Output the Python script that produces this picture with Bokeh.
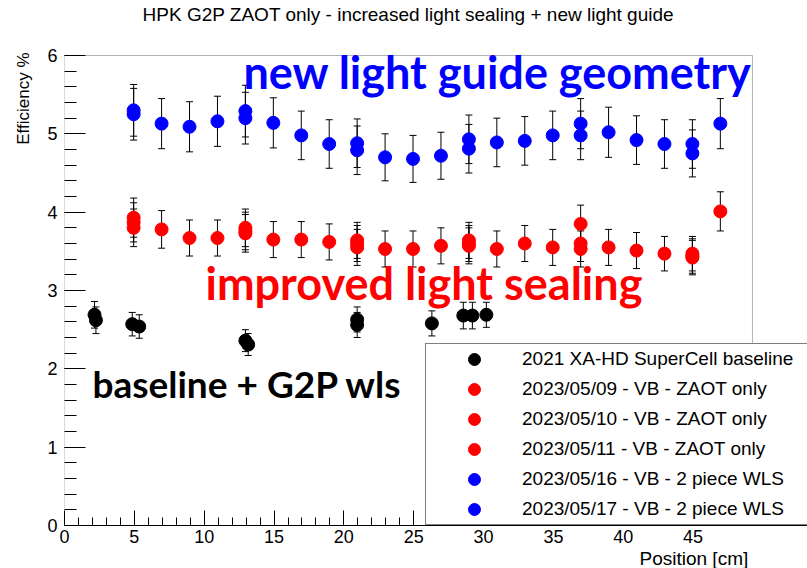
from bokeh.plotting import figure
from bokeh.models import (ColumnDataSource, Whisker, TeeHead, Label, Legend, LegendItem,
                          Range1d, FixedTicker, BoxAnnotation, Title)
from bokeh.embed import file_html
from bokeh.resources import INLINE

title_text = "HPK G2P ZAOT only - increased light sealing + new light guide"
x_title = "Position [cm]"
y_title = "Efficiency %"

# ---- data ----
baseline_pos = [2.15, 2.25, 4.85, 5.35, 12.95, 13.15, 20.95, 20.95, 26.3, 28.55, 29.2, 30.2]
baseline_eff = [2.69, 2.62, 2.57, 2.54, 2.36, 2.31, 2.63, 2.56, 2.58, 2.68, 2.68, 2.69]
baseline_err = [0.17, 0.17, 0.15, 0.15, 0.14, 0.14, 0.16, 0.16, 0.16, 0.17, 0.17, 0.16]

scan_pos = [4.95, 6.95, 8.95, 10.95, 12.95, 14.95, 16.95, 18.95, 20.95, 22.95, 24.95,
            26.95, 28.95, 30.95, 32.95, 34.95, 36.95, 38.95, 40.95, 42.95, 44.95, 46.95]
repeat_pos = [4.95, 12.95, 20.95, 28.95, 36.95, 44.95]

zaot_0509_eff = [3.80, 3.78, 3.67, 3.67, 3.73, 3.65, 3.65, 3.62, 3.55, 3.53, 3.53,
                 3.57, 3.57, 3.53, 3.60, 3.55, 3.53, 3.55, 3.51, 3.47, 3.42, 4.01]
zaot_0509_err = [0.24, 0.24, 0.23, 0.23, 0.24, 0.23, 0.23, 0.23, 0.23, 0.23, 0.23,
                 0.23, 0.23, 0.23, 0.23, 0.23, 0.23, 0.23, 0.23, 0.22, 0.22, 0.25]
zaot_0510_eff = [3.87, 3.80, 3.60, 3.64, 3.60, 3.47]
zaot_0510_err = [0.25, 0.24, 0.23, 0.23, 0.23, 0.22]
zaot_0511_eff = [3.93, 3.76, 3.64, 3.60, 3.85, 3.44]
zaot_0511_err = [0.25, 0.24, 0.23, 0.23, 0.24, 0.22]

wls_0516_eff = [5.25, 5.13, 5.09, 5.16, 5.20, 5.14, 4.98, 4.87, 4.79, 4.70, 4.68,
                4.72, 4.81, 4.89, 4.91, 4.98, 4.98, 5.02, 4.92, 4.87, 4.75, 5.13]
wls_0516_err = [0.33, 0.32, 0.32, 0.32, 0.33, 0.32, 0.31, 0.31, 0.31, 0.30, 0.30,
                0.30, 0.31, 0.31, 0.31, 0.31, 0.31, 0.32, 0.31, 0.31, 0.30, 0.32]
wls_0517_eff = [5.30, 5.29, 4.88, 4.93, 5.13, 4.87]
wls_0517_err = [0.33, 0.33, 0.31, 0.31, 0.32, 0.31]

x_major_ticks = [0, 5, 10, 15, 20, 25, 30, 35, 40, 45]
x_minor_ticks = list(range(0, 50))
y_major_ticks = [0, 1, 2, 3, 4, 5, 6]
y_minor_ticks = [round(0.2 * i, 1) for i in range(0, 31)]

labels = ["2021 XA-HD SuperCell baseline",
          "2023/05/09 - VB - ZAOT only",
          "2023/05/10 - VB - ZAOT only",
          "2023/05/11 - VB - ZAOT only",
          "2023/05/16 - VB - 2 piece WLS",
          "2023/05/17 - VB - 2 piece WLS"]

note_blue = "new light guide geometry"
note_red = "improved light sealing"
note_black = "baseline + G2P wls"

# end of the drawn axes frame (legend box and title lie outside it)
X_AXIS_END = 49.25
Y_AXIS_END = 6.0

# ---- figure ----
p = figure(width=807, height=568, output_backend="svg", toolbar_location=None,
           x_range=Range1d(0, 53.19), y_range=Range1d(0, 6.702),
           min_border_left=64, min_border_right=0, min_border_top=0, min_border_bottom=43)
p.title.text = ""
p.title.visible = False
p.xgrid.visible = False
p.ygrid.visible = False
p.outline_line_color = None
p.background_fill_color = "white"
p.border_fill_color = "white"

p.xaxis.ticker = FixedTicker(ticks=x_major_ticks, minor_ticks=x_minor_ticks)
p.yaxis.ticker = FixedTicker(ticks=y_major_ticks, minor_ticks=y_minor_ticks)
for ax, mj, mn in ((p.xaxis, 15, 8), (p.yaxis, 21, 12)):
    ax.axis_line_color = "black"
    ax.major_tick_line_color = "black"
    ax.minor_tick_line_color = "black"
    ax.major_tick_in = mj
    ax.major_tick_out = 0
    ax.minor_tick_in = mn
    ax.minor_tick_out = 0
    ax.major_label_text_font = "Liberation Sans"
    ax.major_label_text_font_size = "18px"
    ax.major_label_text_color = "black"
p.yaxis.axis_line_color = None
p.xaxis.major_label_standoff = 4
p.yaxis.major_label_standoff = 7

p.add_layout(Title(text=x_title, align="left", offset=575, standoff=0,
                   text_font="Liberation Sans", text_font_size="19px",
                   text_font_style="normal", text_color="black"), "below")
p.add_layout(Title(text=y_title, align="right", offset=52, standoff=23,
                   text_font="Liberation Sans", text_font_size="17px",
                   text_font_style="normal", text_color="black"), "left")

# frame border of the axes area
p.add_layout(BoxAnnotation(left=0, right=X_AXIS_END, bottom=0, top=Y_AXIS_END,
                           fill_alpha=0, fill_color=None, line_color="black", line_width=1))

# chart title, above the axes frame
p.add_layout(Label(x=24.62, y=6.524, text=title_text, text_align="center",
                   text_baseline="alphabetic", text_font="Liberation Sans",
                   text_font_size="19px", text_color="black"))

series = [
    (baseline_pos, baseline_eff, baseline_err, "black"),
    (scan_pos, zaot_0509_eff, zaot_0509_err, "#ff0000"),
    (repeat_pos, zaot_0510_eff, zaot_0510_err, "#ff0000"),
    (repeat_pos, zaot_0511_eff, zaot_0511_err, "#ff0000"),
    (scan_pos, wls_0516_eff, wls_0516_err, "#0000ff"),
    (repeat_pos, wls_0517_eff, wls_0517_err, "#0000ff"),
]

items = []
for (xs, ys, es, col), lab in zip(series, labels):
    src = ColumnDataSource(dict(x=xs, y=ys,
                                lo=[y - e for y, e in zip(ys, es)],
                                hi=[y + e for y, e in zip(ys, es)]))
    w = Whisker(source=src, base="x", upper="hi", lower="lo", dimension="height",
                line_color="black", line_width=1,
                upper_head=TeeHead(size=7, line_color="black", line_width=1),
                lower_head=TeeHead(size=7, line_color="black", line_width=1))
    p.add_layout(w)
    r = p.scatter("x", "y", source=src, size=13, marker="circle",
                  fill_color=col, line_color=col)
    items.append(LegendItem(label=lab, renderers=[r]))

# ---- texts inside the frame ----
p.add_layout(Label(x=12.81, y=5.79, text=note_blue, text_align="left",
                   text_baseline="alphabetic", text_font="Lato", text_font_style="bold",
                   text_font_size="45px", text_color="#0000ff"))
p.add_layout(Label(x=10.09, y=3.09, text=note_red, text_align="left",
                   text_baseline="alphabetic", text_font="Lato", text_font_style="bold",
                   text_font_size="45px", text_color="#ff0000"))
p.add_layout(Label(x=2.0, y=1.81, text=note_black, text_align="left",
                   text_baseline="alphabetic", text_font="Lato", text_font_style="bold",
                   text_font_size="37px", text_color="black"))

legend = Legend(items=items, location=(361, 0), glyph_width=96, glyph_height=30,
                label_height=30, label_width=285, spacing=0, padding=0,
                label_standoff=0, border_line_color="black", border_line_width=1,
                background_fill_color="white", background_fill_alpha=1.0,
                label_text_font="Liberation Sans", label_text_font_size="19px",
                label_text_color="black")
p.add_layout(legend)

open("out.html", "w").write(file_html(p, INLINE))
